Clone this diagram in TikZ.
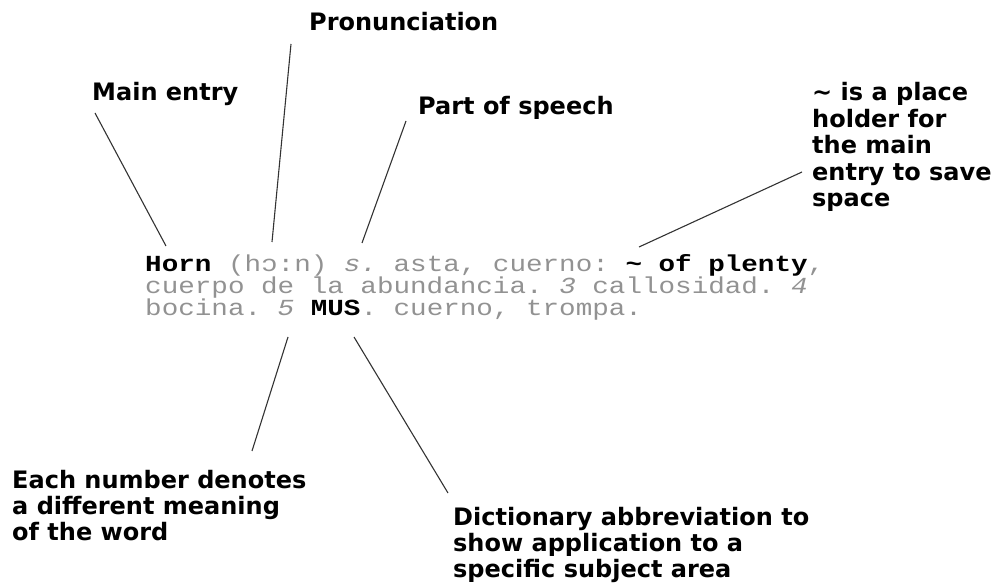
\documentclass[tikz,border=0pt]{standalone}
\usepackage{fontspec}
\newfontfamily\labfont{DejaVu Sans}
\newfontfamily\entryfont{Liberation Mono}[FakeStretch=1.2]
\definecolor{entrygray}{HTML}{929292}
\newcommand\stackedlines[1]{\vtop{\let\\\cr\halign{##\hfil\cr#1\crcr}}}
\begin{document}
\begin{tikzpicture}[x=1pt,y=-1pt,
  lab/.style={anchor=base west, inner sep=0pt, text=black,
    font=\labfont\bfseries\fontsize{24}{26}\selectfont},
  entrytext/.style={anchor=base west, inner sep=0pt, text=entrygray,
    font=\entryfont\fontsize{23}{22}\selectfont\frenchspacing},
  lead/.style={draw=black!80, line width=1.1pt}]
\useasboundingbox (0,0) rectangle (997,588);

% labels
\node[lab] (main) at (92,101) {Main entry};
\node[lab] (pron) at (309,31) {Pronunciation};
\node[lab] (pos) at (418,115) {Part of speech};
\node[lab, font=\labfont\bfseries\fontsize{24}{26.5}\selectfont] (tilde) at (812,101) {\stackedlines{\textasciitilde{} is a place\\holder for\\the main\\entry to save\\space}};
\node[lab] (number) at (12,488) {\stackedlines{Each number denotes\\a different meaning\\of the word}};
\node[lab] (abbr) at (453,525) {\stackedlines{Dictionary abbreviation to\\show application to a\\specific subject area}};

% dictionary entry
\node[entrytext] (entry) at (145,272) {\stackedlines{%
\textcolor{black}{\bfseries Horn} (hɔ:n) \textit{s.} asta, cuerno: \textcolor{black}{\bfseries\textasciitilde{} of plenty},\\
cuerpo de la abundancia. \textit{3} callosidad. \textit{4}\\
bocina. \textit{5} \textcolor{black}{\bfseries MUS}. cuerno, trompa.}};

% connector ends
\coordinate (mainA) at (95,113);
\coordinate (mainB) at (166,246);
\coordinate (pronA) at (291,44);
\coordinate (pronB) at (272,242);
\coordinate (posA) at (406,121);
\coordinate (posB) at (362,243);
\coordinate (tildeA) at (802,172);
\coordinate (tildeB) at (639,247);
\coordinate (numA) at (288,337);
\coordinate (numB) at (252,451);
\coordinate (abbrA) at (354,337);
\coordinate (abbrB) at (448,493);

\draw[lead] (mainA) -- (mainB);
\draw[lead] (pronA) -- (pronB);
\draw[lead] (posA) -- (posB);
\draw[lead] (tildeA) -- (tildeB);
\draw[lead] (numA) -- (numB);
\draw[lead] (abbrA) -- (abbrB);
\end{tikzpicture}
\end{document}
